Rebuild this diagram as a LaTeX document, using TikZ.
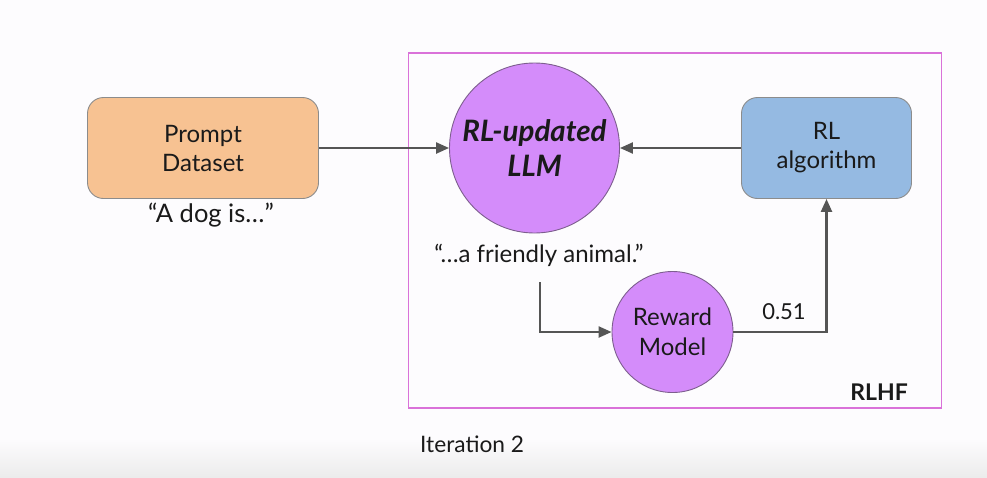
\documentclass[tikz,border=0pt]{standalone}
\usepackage{fontspec}
\setmainfont{Lato}
\usetikzlibrary{arrows.meta,calc}
\definecolor{bgc}{HTML}{FDFCFE}
\definecolor{bgbot}{HTML}{ECECEC}
\definecolor{orangefill}{HTML}{F7C292}
\definecolor{bluefill}{HTML}{95BAE2}
\definecolor{purplefill}{HTML}{D48CFA}
\definecolor{edgegray}{HTML}{8C8C8C}
\definecolor{purpleedge}{HTML}{7D5E8E}
\definecolor{arrowgray}{HTML}{555555}
\definecolor{framecol}{HTML}{DA72D9}
\definecolor{txt}{HTML}{1A1A1A}
\begin{document}
\begin{tikzpicture}[x=1pt,y=-1pt,
  every node/.style={text=txt, inner sep=0pt},
  boxstyle/.style={rectangle, rounded corners=16pt, draw=edgegray, line width=0.9pt,
    minimum width=#1, minimum height=101pt, align=center,
    font=\fontsize{24}{29}\selectfont},
  circstyle/.style={circle, draw=purpleedge, line width=0.9pt, fill=purplefill,
    minimum size=#1, align=center},
  arr/.style={draw=arrowgray, line width=2.3pt,
    -{Triangle[length=13pt,width=11pt]}},
  lbl/.style={font=\fontsize{24}{29}\selectfont}
]
\useasboundingbox (0,0) rectangle (987,477);
\fill[bgc] (0,0) rectangle (987,477);
\shade[top color=bgc, bottom color=bgbot] (0,438) rectangle (987,477);

% RLHF frame
\draw[framecol, line width=1.8pt] (408.5,53) rectangle (941.5,408);

% nodes
\node[boxstyle=231pt, fill=orangefill] (prompt) at (203,148) {Prompt\\Dataset};
\node[boxstyle=170pt, fill=bluefill] (rl) at (826.5,148) {RL\\algorithm};
\node[circstyle=170pt, font=\fontsize{29.5}{35}\selectfont\bfseries\itshape] (llm) at (534.5,148) {RL-updated\\LLM};
\node[circstyle=121pt, font=\fontsize{24}{30}\selectfont] (reward) at (672.5,332) {Reward\\Model};

% labels
\node[font=\fontsize{25.5}{30}\selectfont, anchor=base] (dog) at (211,222) {“A dog is…”};
\node[lbl, anchor=base] (friendly) at (539,262) {“…a friendly animal.”};
\node[font=\fontsize{22}{26}\selectfont, anchor=base] (score) at (784,319) {0.51};
\node[font=\fontsize{23}{27}\selectfont\bfseries, anchor=base east] (rlhf) at (908,400) {RLHF};
\node[font=\fontsize{22.7}{27}\selectfont, anchor=base west] (iter) at (420,452) {Iteration 2};

% connectors
\coordinate (fstart) at (540,282);
\draw[arr] (prompt) -- (llm);
\draw[arr] (rl) -- (llm);
\draw[arr] (fstart) |- (reward);
\draw[arr] (reward) -| (rl);
\end{tikzpicture}
\end{document}
